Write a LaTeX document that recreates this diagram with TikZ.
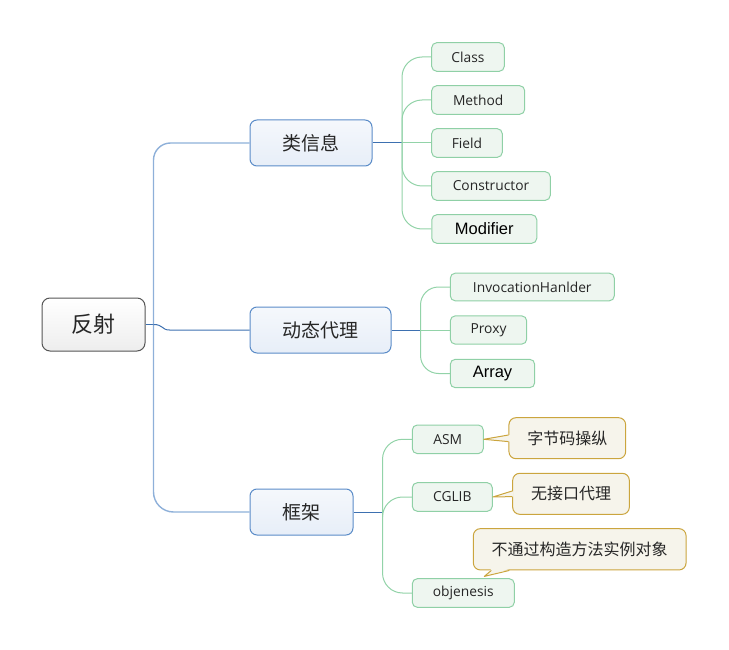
\documentclass[tikz,border=0pt]{standalone}
\usepackage{fontspec}
\setmainfont{Open Sans}
\newfontfamily\cjk{Noto Sans CJK SC}
\newfontfamily\arialf{Liberation Sans}
\usetikzlibrary{calc}
\definecolor{rootborder}{HTML}{555555}
\definecolor{lvlborder}{HTML}{5B8CC8}
\definecolor{lvltop}{HTML}{F5F8FC}
\definecolor{lvlbot}{HTML}{E7EEF8}
\definecolor{trunkblue}{HTML}{8EB0D9}
\definecolor{darkblue}{HTML}{3D70B0}
\definecolor{leafborder}{HTML}{8FD0A6}
\definecolor{leaffill}{HTML}{EEF6F0}
\definecolor{greenline}{HTML}{92D3A8}
\definecolor{noteborder}{HTML}{CBA53E}
\definecolor{notefill}{HTML}{F6F4EB}
\definecolor{txt}{HTML}{262626}
\tikzset{
  rootbox/.style={draw=rootborder, line width=1pt, rounded corners=8pt, top color=white, bottom color=black!7,
    inner sep=0pt, minimum height=53pt, text=black!85, font=\cjk\fontsize{22}{26}\selectfont},
  lvlbox/.style={draw=lvlborder, line width=1pt, rounded corners=7pt, top color=lvltop, bottom color=lvlbot,
    inner sep=0pt, minimum height=46pt, text=black!85, font=\cjk\fontsize{19}{23}\selectfont},
  leafbox/.style={draw=leafborder, line width=1pt, rounded corners=5pt, fill=leaffill,
    inner sep=0pt, minimum height=28.6pt, text=txt, font=\fontsize{13.8}{16}\selectfont},
  leafbold/.style={leafbox, text=black, font=\arialf\fontsize{16.5}{19}\selectfont},
  notebox/.style={draw=noteborder, line width=1pt, rounded corners=7pt, fill=notefill,
    inner sep=0pt, minimum height=41pt, text=txt, font=\cjk\fontsize{16}{19}\selectfont},
  trunk/.style={draw=trunkblue, line width=1.4pt},
  bline/.style={draw=darkblue, line width=1pt},
  gline/.style={draw=greenline, line width=1pt},
}
\begin{document}
\begin{tikzpicture}[x=1pt,y=-1pt]
\useasboundingbox (0,0) rectangle (729,650);
% main nodes
\node[rootbox, minimum width=103pt] (root) at (93.5,324.5) {反射};
\node[lvlbox, minimum width=122pt] (lei) at (311,143) {类信息};
\node[lvlbox, minimum width=141pt] (dt) at (320.5,330) {动态代理};
\node[lvlbox, minimum width=103pt] (kj) at (301.5,512) {框架};
% leaves of 类信息
\node[leafbox, minimum width=72.6pt] (cls) at (468,57) {Class};
\node[leafbox, minimum width=93pt] (mth) at (478.2,100) {Method};
\node[leafbox, minimum width=70.6pt] (fld) at (467,143) {Field};
\node[leafbox, minimum width=118.6pt] (ctr) at (491,186) {Constructor};
\node[leafbold, minimum width=104.9pt] (mod) at (484.3,229) {Modifier};
% leaves of 动态代理
\node[leafbox, minimum width=164pt, minimum height=27.7pt] (inv) at (532.3,287) {InvocationHanlder};
\node[leafbox, minimum width=76.4pt, minimum height=28.3pt] (prx) at (488.5,330) {Proxy};
\node[leafbold, minimum width=84.4pt, minimum height=28.4pt] (arr) at (492.5,373.5) {Array};
% leaves of 框架
\node[leafbox, minimum width=71pt] (asm) at (447.8,439.3) {ASM};
\node[leafbox, minimum width=80pt] (cgl) at (452.3,497) {CGLIB};
\node[leafbox, minimum width=102pt] (obj) at (463.3,593) {objenesis};
% notes
\node[notebox, minimum width=116.7pt] (n1) at (567.3,438.2) {字节码操纵};
\node[notebox, minimum width=116.6pt] (n2) at (571,493.8) {无接口代理};
\node[notebox, minimum width=212.7pt, minimum height=41.3pt] (n3) at (579.7,549.3) {不通过构造方法实例对象};
% note pointers
\fill[notefill] (asm.east) -- ($(n1.west)+(1.5,-3.2)$) -- ($(n1.west)+(1.5,3.4)$) -- cycle;
\draw[noteborder, line width=1pt, line join=round] ($(n1.west)+(0,-3.2)$) -- (asm.east) -- ($(n1.west)+(0,3.4)$);
\fill[notefill] (cgl.east) -- ($(n2.west)+(1.5,-2.8)$) -- ($(n2.west)+(1.5,2.8)$) -- cycle;
\draw[noteborder, line width=1pt, line join=round] ($(n2.west)+(0,-2.8)$) -- (cgl.east) -- ($(n2.west)+(0,2.8)$);
\coordinate (otip) at ($(obj.north west)+(72.5,-1.8)$);
\fill[notefill] (otip) -- ($(n3.south west)+(18.5,-1.5)$) -- ($(n3.south west)+(36.5,-1.5)$) -- cycle;
\draw[noteborder, line width=1pt, line join=round] ($(n3.south west)+(18.5,0)$) -- (otip) -- ($(n3.south west)+(36.5,0)$);
% root connectors
\coordinate (rj) at ($(root.east)+(8,0)$);
\draw[bline] (root.east) -- (rj);
\draw[trunk, rounded corners=17pt] (rj) |- (lei.west);
\draw[trunk, rounded corners=20pt] (rj) |- (kj.west);
\draw[bline] (rj) .. controls ($(rj)+(10,0)$) and ($(dt.west)+(-88,0)$) .. ($(dt.west)+(-80,0)$) -- (dt.west);
% 类信息 connectors
\coordinate (lj) at ($(lei.east)+(29.5,0)$);
\draw[bline] (lei.east) -- (lj);
\foreach \c in {cls,mth,ctr,mod} \draw[gline, rounded corners=20pt] (lj) |- (\c.west);
\draw[gline] (lj) -- (fld.west);
% 动态代理 connectors
\coordinate (dj) at ($(dt.east)+(29,0)$);
\draw[bline] (dt.east) -- (dj);
\foreach \c in {inv,arr} \draw[gline, rounded corners=18pt] (dj) |- (\c.west);
\draw[gline] (dj) -- (prx.west);
% 框架 connectors
\coordinate (kjj) at ($(kj.east)+(29,0)$);
\draw[bline] (kj.east) -- (kjj);
\foreach \c in {asm,cgl,obj} \draw[gline, rounded corners=20pt] (kjj) |- (\c.west);
\end{tikzpicture}
\end{document}
